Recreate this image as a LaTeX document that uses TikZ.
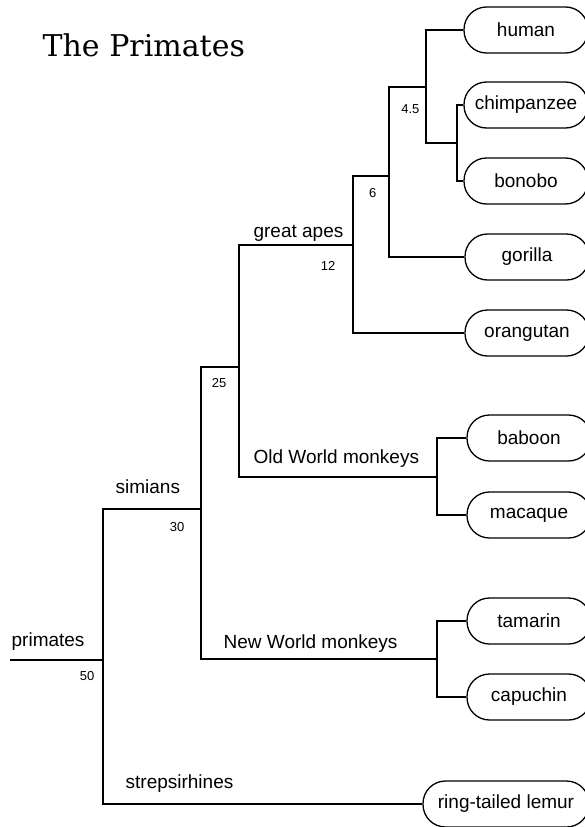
\documentclass[tikz,border=0pt]{standalone}
\usepackage{fontspec}
\setmainfont{Liberation Sans}
\newfontfamily\titlefont{DejaVu Serif}
\begin{document}
\begin{tikzpicture}[x=1pt,y=-1pt,line width=1.3pt,
  tip/.style={draw,rectangle,rounded corners=22.5pt,minimum width=124pt,minimum height=46pt,inner sep=0pt,font=\fontsize{19}{22}\selectfont},
  grp/.style={inner sep=0pt,font=\fontsize{19}{22}\selectfont},
  age/.style={inner sep=0pt,font=\fontsize{13}{15}\selectfont,anchor=base east}]
\useasboundingbox (0,0) rectangle (585,827);
\clip (0,0) rectangle (585,827);
\node[inner sep=0pt,anchor=base west,font=\titlefont\fontsize{30}{34}\selectfont] (title) at (42,56) {The Primates};
% tips
\node[tip] (human) at (526,30) {human};
\node[tip] (chimp) at (526,105) {chimpanzee};
\node[tip] (bonobo) at (526,181) {bonobo};
\node[tip] (gorilla) at (527,257) {gorilla};
\node[tip] (orang) at (527,333) {orangutan};
\node[tip] (baboon) at (529,438) {baboon};
\node[tip] (macaque) at (529,515) {macaque};
\node[tip] (tamarin) at (529,621) {tamarin};
\node[tip] (capuchin) at (529,697) {capuchin};
\node[tip,minimum width=166pt] (lemur) at (506,804) {ring-tailed lemur};
% internal nodes
\coordinate (cb) at (457,143);
\coordinate (n45) at (426,87);
\coordinate (n6) at (389,176);
\coordinate (n12) at (353,245);
\coordinate (owm) at (437,477);
\coordinate (n25) at (239,367);
\coordinate (nwm) at (437,659);
\coordinate (n30) at (201,509);
\coordinate (n50) at (103,660);
\coordinate (root) at (10,660);
% connectors
\draw (chimp.west) -| (cb) |- (bonobo.west);
\draw (human.west) -| (n45) |- (cb);
\draw (n45) -| (n6) |- (gorilla.west);
\draw (n6) -| (n12) |- (orang.west);
\draw (baboon.west) -| (owm) |- (macaque.west);
\draw (n12) -| (n25) |- (owm);
\draw (tamarin.west) -| (nwm) |- (capuchin.west);
\draw (n25) -| (n30) |- (nwm);
\draw (n30) -| (n50) |- (lemur.west);
\draw (root) -- (n50);
% labels
\node[grp,anchor=base east] (lga) at (344,237) {great apes};
\node[grp,anchor=base west] (lowm) at (253,463) {Old World monkeys};
\node[grp,anchor=base west] (lnwm) at (223,648) {New World monkeys};
\node[grp,anchor=base west] (lsim) at (115,493) {simians};
\node[grp,anchor=base west] (lpri) at (11,646) {primates};
\node[grp,anchor=base west] (lstr) at (125,788) {strepsirhines};
\node[age] (a45) at (420,113) {4.5};
\node[age] (a6) at (377,197) {6};
\node[age] (a12) at (336,270) {12};
\node[age] (a25) at (227,387) {25};
\node[age] (a30) at (185,531) {30};
\node[age] (a50) at (95,680) {50};
\end{tikzpicture}
\end{document}
